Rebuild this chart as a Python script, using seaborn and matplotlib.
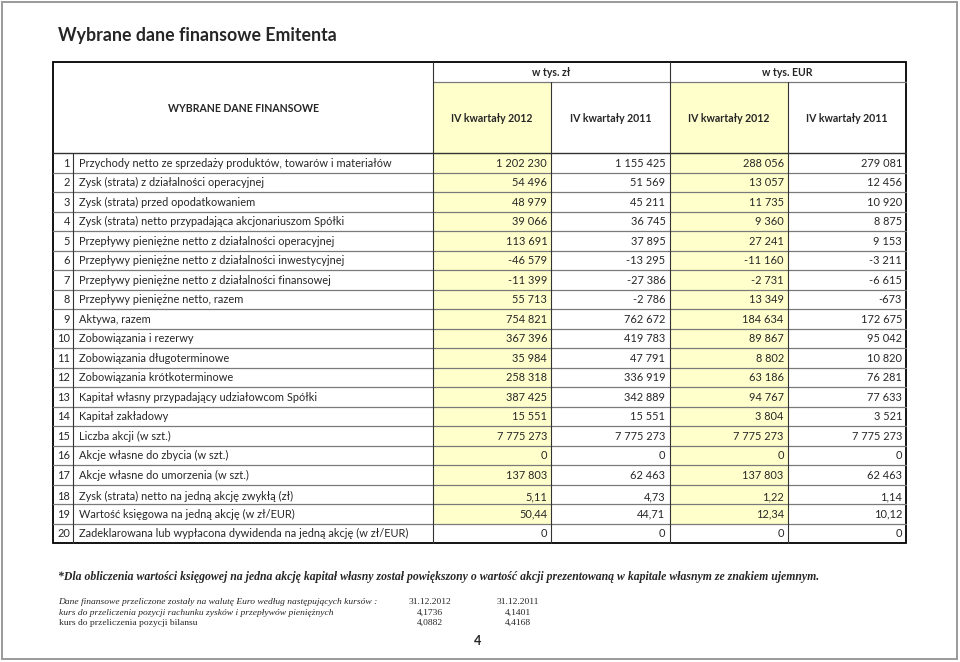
# Tabela "Wybrane dane finansowe Emitenta" odtworzona jako rysunek
import numpy as np
import pandas as pd
import seaborn as sns
import matplotlib.pyplot as plt
from matplotlib.colors import ListedColormap
from matplotlib.patches import Rectangle

# --- dane ---
labels = [
    "Przychody netto ze sprzedaży produktów, towarów i materiałów",
    "Zysk (strata) z działalności operacyjnej",
    "Zysk (strata) przed opodatkowaniem",
    "Zysk (strata) netto przypadająca akcjonariuszom Spółki",
    "Przepływy pieniężne netto z działalności operacyjnej",
    "Przepływy pieniężne netto z działalności inwestycyjnej",
    "Przepływy pieniężne netto z działalności finansowej",
    "Przepływy pieniężne netto, razem",
    "Aktywa, razem",
    "Zobowiązania i rezerwy",
    "Zobowiązania długoterminowe",
    "Zobowiązania krótkoterminowe",
    "Kapitał własny przypadający udziałowcom Spółki",
    "Kapitał zakładowy",
    "Liczba akcji (w szt.)",
    "Akcje własne do zbycia (w szt.)",
    "Akcje własne do umorzenia (w szt.)",
    "Zysk (strata) netto na jedną akcję zwykłą (zł)",
    "Wartość księgowa na jedną akcję (w zł/EUR)",
    "Zadeklarowana lub wypłacona dywidenda na jedną akcję (w zł/EUR)",
]
pln_2012 = [1202230, 54496, 48979, 39066, 113691, -46579, -11399, 55713, 754821, 367396,
            35984, 258318, 387425, 15551, 7775273, 0, 137803, 5.11, 50.44, 0]
pln_2011 = [1155425, 51569, 45211, 36745, 37895, -13295, -27386, -2786, 762672, 419783,
            47791, 336919, 342889, 15551, 7775273, 0, 62463, 4.73, 44.71, 0]
eur_2012 = [288056, 13057, 11735, 9360, 27241, -11160, -2731, 13349, 184634, 89867,
            8802, 63186, 94767, 3804, 7775273, 0, 137803, 1.22, 12.34, 0]
eur_2011 = [279081, 12456, 10920, 8875, 9153, -3211, -6615, -673, 172675, 95042,
            10820, 76281, 77633, 3521, 7775273, 0, 62463, 1.14, 10.12, 0]
decimal_rows = [18, 19]

currencies = ["w tys. zł", "w tys. EUR"]
periods = ["IV kwartały 2012", "IV kwartały 2011", "IV kwartały 2012", "IV kwartały 2011"]

rate_dates = ["31.12.2012", "31.12.2011"]
rate_pnl = ["4,1736", "4,1401"]
rate_bs = ["4,0882", "4,4168"]

df = pd.DataFrame({"pln_2012": pln_2012, "pln_2011": pln_2011,
                   "eur_2012": eur_2012, "eur_2011": eur_2011})
df["nr"] = np.arange(1, len(labels) + 1)


def fmt(v, nr):
    if nr in decimal_rows and v != 0:
        return f"{v:.2f}".replace(".", ",")
    return f"{v:,.0f}".replace(",", " ")


# --- układ (piksele) ---
W, H = 960, 662
left, num_sep, lab_sep, right = 53, 73, 433, 906
top, cur_line, head_bot = 62, 82, 153
row_h = 19.5
n = len(labels)
body_bot = head_bot + n * row_h
col_edges = np.linspace(lab_sep, right, 5)
yellow = "#FFFFCC"

sns.set_style("white")
plt.rcParams["font.family"] = ["Lato", "DejaVu Sans"]

fig = plt.figure(figsize=(W / 100, H / 100), dpi=100)

# wypełnienie komórek (kolumny 2012 na żółto) jako heatmapa
fill = np.zeros((n, 4))
fill[:n - 1, [0, 2]] = 1
hm = fig.add_axes([lab_sep / W, 1 - body_bot / H, (right - lab_sep) / W, (body_bot - head_bot) / H])
sns.heatmap(fill, ax=hm, cmap=ListedColormap(["white", yellow]), cbar=False,
            xticklabels=False, yticklabels=False, linewidths=0)
hm.axis("off")

ax = fig.add_axes([0, 0, 1, 1])
ax.set_xlim(0, W)
ax.set_ylim(H, 0)
ax.axis("off")
ax.patch.set_alpha(0)

# ramka strony
ax.add_patch(Rectangle((1.5, 1.5), W - 4.5, H - 4.5, fill=False, ec="#9a9a9a", lw=1.4))

ax.text(58, 36, "Wybrane dane finansowe Emitenta", fontsize=12.8, fontweight="bold",
        va="center", ha="left")

# żółte komórki nagłówka
for c in (0, 2):
    ax.add_patch(Rectangle((col_edges[c], cur_line), col_edges[c + 1] - col_edges[c],
                           head_bot - cur_line, fc=yellow, ec="none", zorder=0))

# linie siatki
grey = "#7a7a7a"
for i in range(1, n):
    y = head_bot + i * row_h
    ax.plot([left, right], [y, y], color=grey, lw=0.9)
ax.plot([lab_sep, right], [cur_line, cur_line], color=grey, lw=0.9)
ax.plot([left, right], [head_bot, head_bot], color="#333333", lw=1.0)
ax.plot([num_sep, num_sep], [head_bot, body_bot], color="#333333", lw=0.8)
ax.plot([lab_sep, lab_sep], [top, body_bot], color="#333333", lw=0.8)
ax.plot([col_edges[2], col_edges[2]], [top, body_bot], color="#333333", lw=0.8)
for c in (1, 3):
    ax.plot([col_edges[c], col_edges[c]], [cur_line, body_bot], color="#333333", lw=0.8)
ax.add_patch(Rectangle((left, top), right - left, body_bot - top, fill=False, ec="black", lw=1.3))

# nagłówki
hfs = 7.6
fs = 7.9
ax.text((left + lab_sep) / 2, 108, "WYBRANE DANE FINANSOWE", fontsize=hfs, fontweight="bold",
        ha="center", va="center")
for k, cur in enumerate(currencies):
    ax.text((col_edges[2 * k] + col_edges[2 * k + 2]) / 2, 72, cur, fontsize=hfs,
            fontweight="bold", ha="center", va="center")
for c, p in enumerate(periods):
    ax.text((col_edges[c] + col_edges[c + 1]) / 2, 118, p, fontsize=hfs, fontweight="bold",
            ha="center", va="center")

# wiersze
cols = ["pln_2012", "pln_2011", "eur_2012", "eur_2011"]
for i, row in df.iterrows():
    y = head_bot + (i + 0.5) * row_h + 0.5
    if row["nr"] == 18:
        y += 2
    ax.text(num_sep - 3, y, str(int(row["nr"])), fontsize=fs, ha="right", va="center")
    ax.text(num_sep + 6, y, labels[i], fontsize=fs, ha="left", va="center")
    for c, col in enumerate(cols):
        ax.text(col_edges[c + 1] - 4, y, fmt(row[col], row["nr"]), fontsize=fs,
                ha="right", va="center")

# przypisy
serif = ["Liberation Serif", "DejaVu Serif"]
ax.text(58, 577, "*Dla obliczenia wartości księgowej na jedna akcję kapitał własny został "
        "powiększony o wartość akcji prezentowaną w kapitale własnym ze znakiem ujemnym.",
        family=serif, fontsize=8.45, fontweight="bold", style="italic", ha="left", va="center")
sfs = 6.8
ax.text(58, 602, "Dane finansowe przeliczone zostały na walutę Euro według następujących kursów :",
        family=serif, fontsize=sfs, style="italic", ha="left", va="center")
ax.text(59, 613, "kurs do przeliczenia pozycji rachunku zysków i przepływów pieniężnych",
        family=serif, fontsize=sfs, style="italic", ha="left", va="center")
ax.text(59, 623, "kurs do przeliczenia pozycji bilansu", family=serif, fontsize=sfs,
        ha="left", va="center")
for k, xc in enumerate([430, 518]):
    ax.text(xc, 602, rate_dates[k], family=serif, fontsize=sfs, ha="center", va="center")
    ax.text(xc, 613, rate_pnl[k], family=serif, fontsize=sfs, ha="center", va="center")
    ax.text(xc, 623, rate_bs[k], family=serif, fontsize=sfs, ha="center", va="center")

ax.text(478, 641, "4", fontsize=9, fontweight="bold", ha="center", va="center")

fig.savefig("out.png", dpi=100)
